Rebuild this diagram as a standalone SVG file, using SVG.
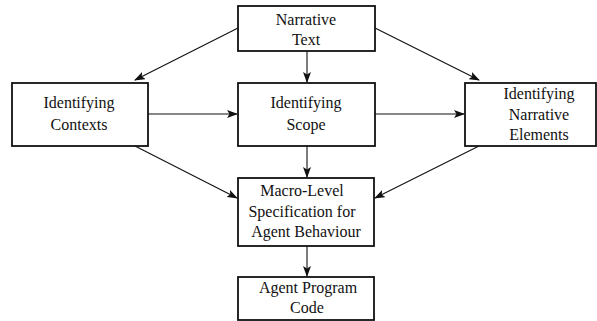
<svg xmlns="http://www.w3.org/2000/svg" width="597" height="321" viewBox="0 0 597 321">
<style>
.box{fill:#fff;stroke:#111;stroke-width:1.8}
.t{font-family:"Liberation Serif","Times New Roman",serif;font-size:16px;fill:#111;text-anchor:middle}
.c{stroke:#111;stroke-width:1.1;fill:none;marker-end:url(#ah)}
</style>
<defs>
<marker id="ah" markerWidth="11" markerHeight="8" refX="10" refY="4" orient="auto" markerUnits="userSpaceOnUse">
<path d="M0,0 L11,4 L0,8 L2.5,4 Z" fill="#111"/>
</marker>
</defs>
<g id="connectors">
<line class="c" x1="238" y1="28" x2="135" y2="80"/>
<line class="c" x1="375" y1="28" x2="479" y2="80"/>
<line class="c" x1="307" y1="51" x2="307" y2="82"/>
<line class="c" x1="148" y1="114" x2="237" y2="114"/>
<line class="c" x1="375" y1="114" x2="464" y2="114"/>
<line class="c" x1="307" y1="146" x2="307" y2="177"/>
<line class="c" x1="135" y1="146" x2="237" y2="198"/>
<line class="c" x1="479" y1="146" x2="375" y2="198"/>
<line class="c" x1="307" y1="246" x2="307" y2="276"/>
</g>
<g id="narrative-text">
<rect class="box" x="238" y="6" width="137" height="45"/>
<text class="t" x="306" y="25">Narrative</text>
<text class="t" x="306" y="45">Text</text>
</g>
<g id="identifying-contexts">
<rect class="box" x="12" y="83" width="136" height="63"/>
<text class="t" x="79" y="108">Identifying</text>
<text class="t" x="79" y="130">Contexts</text>
</g>
<g id="identifying-scope">
<rect class="box" x="238" y="83" width="137" height="63"/>
<text class="t" x="306" y="108">Identifying</text>
<text class="t" x="306" y="130">Scope</text>
</g>
<g id="identifying-narrative-elements">
<rect class="box" x="465" y="83" width="131" height="63"/>
<text class="t" x="539" y="99">Identifying</text>
<text class="t" x="539" y="120">Narrative</text>
<text class="t" x="539" y="140">Elements</text>
</g>
<g id="macro-level">
<rect class="box" x="238" y="178" width="136" height="68"/>
<text class="t" x="302" y="196">Macro-Level</text>
<text class="t" x="302" y="217">Specification for</text>
<text class="t" x="306" y="237">Agent Behaviour</text>
</g>
<g id="agent-program-code">
<rect class="box" x="238" y="277" width="136" height="43"/>
<text class="t" x="308" y="293">Agent Program</text>
<text class="t" x="307" y="313">Code</text>
</g>
</svg>
